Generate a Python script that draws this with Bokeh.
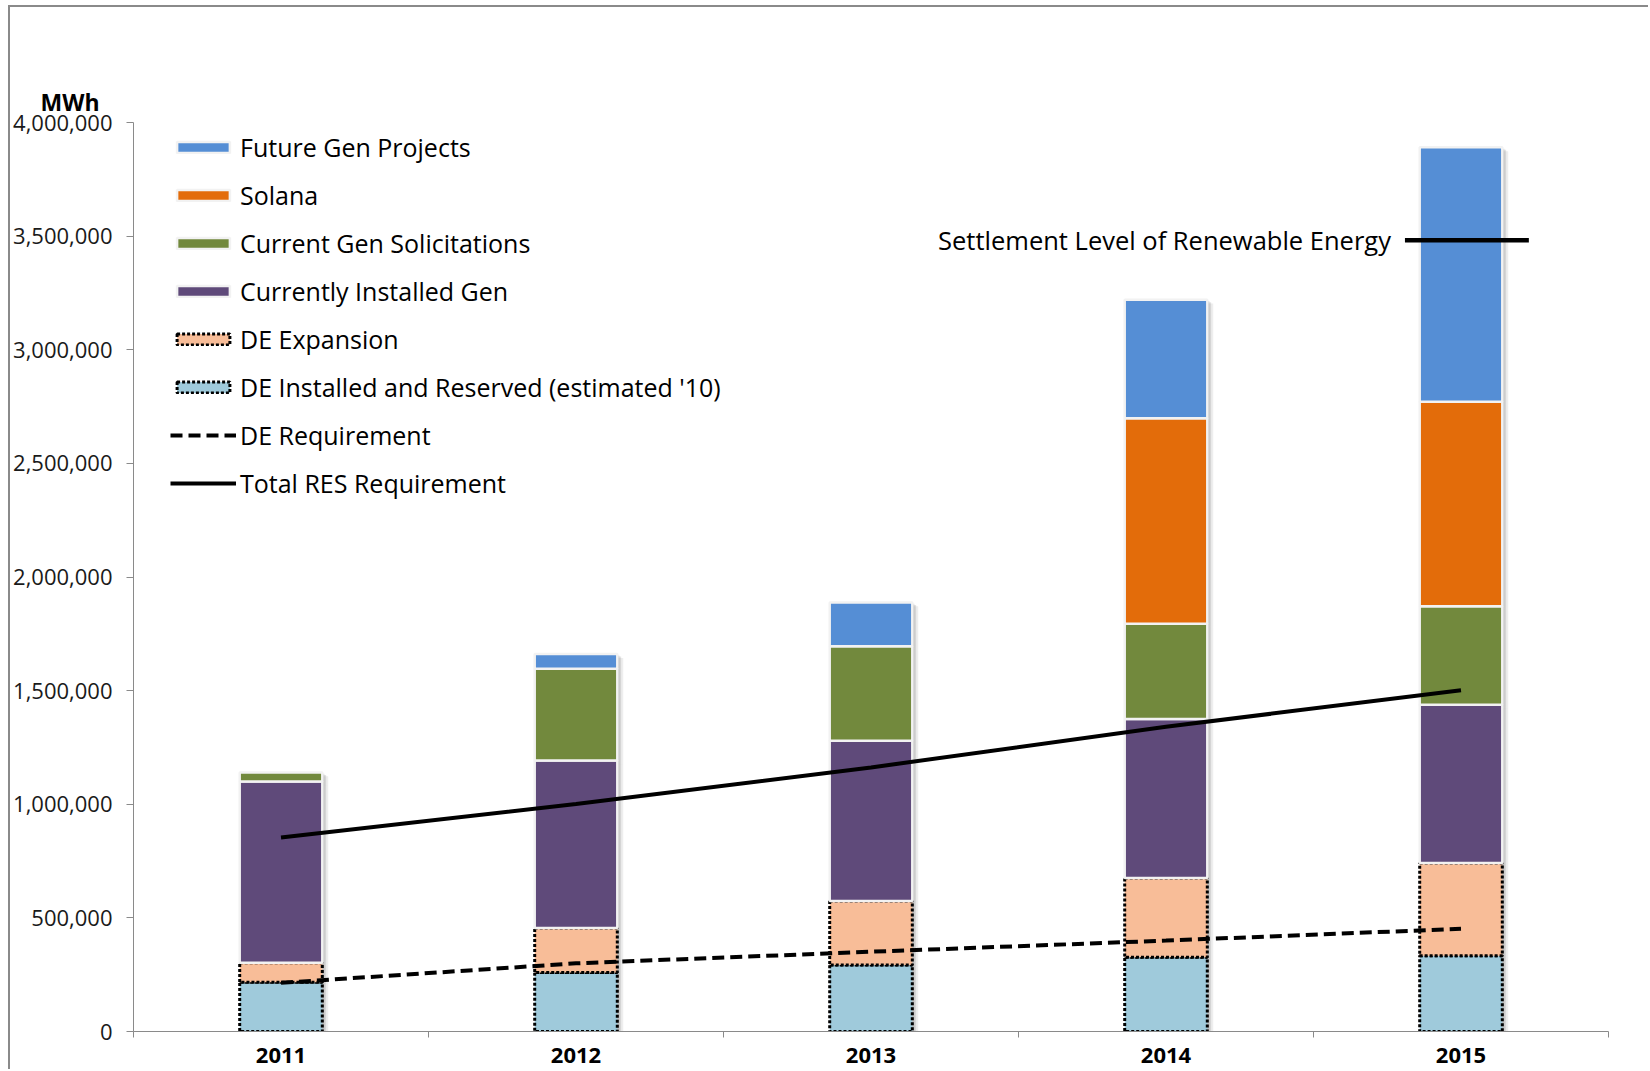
from bokeh.plotting import figure
from bokeh.models import (ColumnDataSource, Range1d, FixedTicker, NumeralTickFormatter,
                          Legend, LegendItem, Label, Title)
from bokeh.transform import dodge
from bokeh.embed import file_html
from bokeh.resources import INLINE

# ---- data (MWh) ----
years = ["2011", "2012", "2013", "2014", "2015"]
de_installed = [217000, 260000, 293000, 327000, 333000]
de_expansion = [86000, 195000, 281000, 348000, 408000]
installed_gen = [797000, 737000, 705000, 700000, 697000]
gen_solicitations = [40000, 404000, 416000, 419000, 433000]
solana = [0, 0, 0, 905000, 900000]
future_gen = [0, 65000, 193000, 521000, 1120000]
de_requirement = [214000, 300000, 351000, 400000, 452000]
total_res_requirement = [854000, 1001000, 1162000, 1341000, 1502000]
settlement_level = 3482000
y_ticks = [0, 500000, 1000000, 1500000, 2000000, 2500000, 3000000, 3500000, 4000000]

FONT = "Open Sans"
BAR_W = 0.28
xs = [i + 0.5 for i in range(len(years))]

p = figure(width=1640, height=1064, output_backend="svg", toolbar_location=None,
           x_range=Range1d(0, 5), y_range=Range1d(0, 4000000),
           min_border_left=122, min_border_right=42, min_border_top=115, min_border_bottom=40,
           background_fill_color="white", border_fill_color="white")
p.styles = {"border-left": "2px solid #8a8a8a", "border-top": "2px solid #8a8a8a"}
p.margin = (5, 0, 0, 8)
p.outline_line_color = None
p.xgrid.visible = False
p.ygrid.visible = False

# unit caption above the value axis
p.add_layout(Title(text="MWh", align="left", offset=-93, standoff=9, text_font=FONT,
                   text_font_style="bold", text_font_size="23px", text_color="black"), "above")

# ---- stacked segments ----
stack = [
    ("DE Installed and Reserved (estimated '10)", de_installed, "#9fcadb", True),
    ("DE Expansion", de_expansion, "#f8bd98", True),
    ("Currently Installed Gen", installed_gen, "#5f4a7a", False),
    ("Current Gen Solicitations", gen_solicitations, "#72893d", False),
    ("Solana", solana, "#e36c0a", False),
    ("Future Gen Projects", future_gen, "#558ed5", False),
]

base = [0] * len(years)
segments = []
for name, vals, color, dotted in stack:
    src = dict(x=[], bottom=[], top=[])
    for i, v in enumerate(vals):
        if v > 0:
            src["x"].append(xs[i])
            src["bottom"].append(base[i])
            src["top"].append(base[i] + v)
        base[i] += v
    segments.append((name, ColumnDataSource(src), color, dotted))

# soft drop shadow behind each segment
for name, src, color, dotted in segments:
    for dx, dy, a in [(0.020, -17000, 0.10), (0.013, -11000, 0.16), (0.007, -6000, 0.2)]:
        p.vbar(x=dodge("x", dx), bottom=dodge("bottom", dy), top=dodge("top", dy),
               width=BAR_W, source=src, fill_color="#555555", fill_alpha=a, line_color=None)

bar_renderers = {}
for name, src, color, dotted in segments:
    if dotted:
        r = p.vbar(x="x", bottom="bottom", top="top", width=BAR_W, source=src,
                   fill_color=color, line_color="black", line_width=3, line_dash="3 2")
    else:
        r = p.vbar(x="x", bottom="bottom", top="top", width=BAR_W, source=src,
                   fill_color=color, line_color="#f2f2f2", line_width=2.5)
    bar_renderers[name] = r

# ---- requirement lines ----
r_de = p.line(xs, de_requirement, line_color="black", line_width=4, line_dash="12 6")
r_tot = p.line(xs, total_res_requirement, line_color="black", line_width=4)

# settlement level marker on the last year
p.segment(x0=[xs[-1] - 0.19], x1=[xs[-1] + 0.23], y0=[settlement_level], y1=[settlement_level],
          line_color="black", line_width=4.5)
p.add_layout(Label(x=xs[-1] - 0.19, y=settlement_level, x_offset=-14,
                   text="Settlement Level of Renewable Energy", text_align="right",
                   text_baseline="middle", text_font=FONT, text_font_size="25.5px",
                   text_color="black"))

# ---- axes ----
xa = p.xaxis[0]
xa.ticker = FixedTicker(ticks=xs, minor_ticks=[0, 1, 2, 3, 4, 5])
xa.major_label_overrides = {x: y for x, y in zip(xs, years)}
xa.major_tick_line_color = None
xa.major_tick_out = 0
xa.major_tick_in = 0
xa.minor_tick_line_color = "#8a8a8a"
xa.minor_tick_out = 6
xa.minor_tick_in = 0
xa.axis_line_color = "#8a8a8a"
xa.major_label_text_font = FONT
xa.major_label_text_font_style = "bold"
xa.major_label_text_font_size = "22px"
xa.major_label_text_color = "black"
xa.major_label_standoff = 10

ya = p.yaxis[0]
ya.ticker = FixedTicker(ticks=y_ticks)
ya.formatter = NumeralTickFormatter(format="0,0")
ya.major_tick_line_color = "#8a8a8a"
ya.major_tick_out = 7
ya.major_tick_in = 0
ya.minor_tick_line_color = None
ya.axis_line_color = "#8a8a8a"
ya.major_label_text_font = FONT
ya.major_label_text_font_size = "22px"
ya.major_label_text_color = "#1a1a1a"
ya.major_label_standoff = 14

# ---- legend ----
order = ["Future Gen Projects", "Solana", "Current Gen Solicitations", "Currently Installed Gen",
         "DE Expansion", "DE Installed and Reserved (estimated '10)"]
items = [LegendItem(label=n, renderers=[bar_renderers[n]]) for n in order]
items.append(LegendItem(label="DE Requirement", renderers=[r_de]))
items.append(LegendItem(label="Total RES Requirement", renderers=[r_tot]))
legend = Legend(items=items, location=(37, 531), padding=0, margin=0, spacing=14,
                glyph_width=66, glyph_height=14, label_standoff=4,
                label_text_font=FONT, label_text_font_size="25px", label_text_color="black",
                border_line_color=None, background_fill_alpha=0)
p.add_layout(legend)

open("out.html", "w").write(file_html(p, INLINE))
